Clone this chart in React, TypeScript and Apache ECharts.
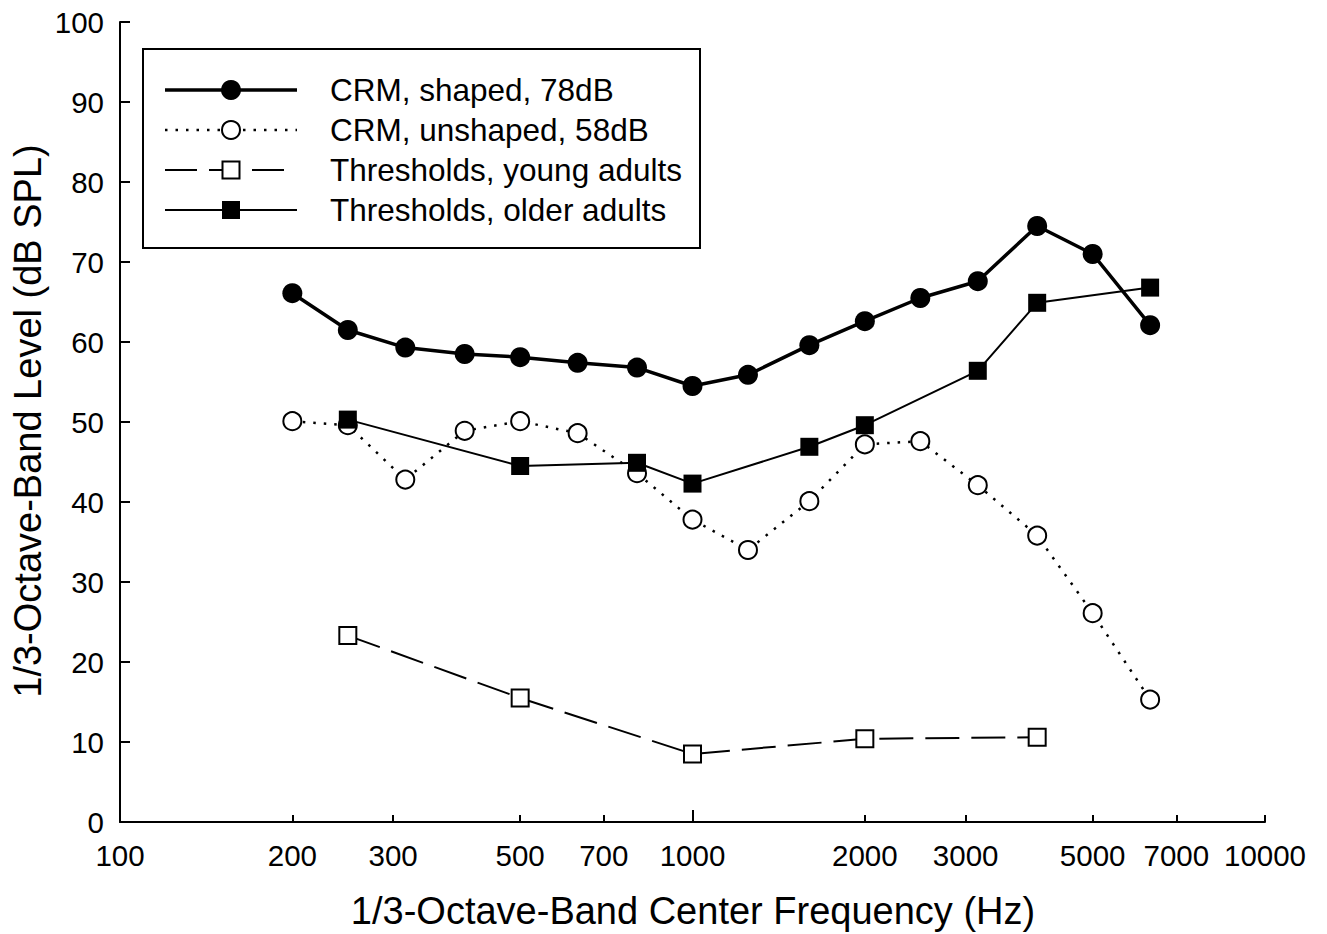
import React, { useEffect, useRef } from "react";
import * as echarts from "echarts";

const freqs = [200, 250, 315, 400, 500, 630, 800, 1000, 1250, 1600, 2000, 2500, 3150, 4000, 5000, 6300];
const crmShaped = [66.1, 61.5, 59.3, 58.5, 58.1, 57.4, 56.8, 54.5, 55.9, 59.6, 62.6, 65.5, 67.6, 74.5, 71.0, 62.1];
const crmUnshaped = [50.1, 49.6, 42.8, 48.9, 50.1, 48.6, 43.6, 37.8, 34.0, 40.1, 47.2, 47.6, 42.1, 35.8, 26.1, 15.3];
const youngFreqs = [250, 500, 1000, 2000, 4000];
const youngThr = [23.3, 15.5, 8.5, 10.4, 10.6];
const olderFreqs = [250, 500, 800, 1000, 1600, 2000, 3150, 4000, 6300];
const olderThr = [50.3, 44.5, 44.9, 42.3, 46.9, 49.6, 56.4, 64.9, 66.8];
const xTickValues = [100, 200, 300, 500, 700, 1000, 2000, 3000, 5000, 7000, 10000];
const legendNames = ["CRM, shaped, 78dB", "CRM, unshaped, 58dB", "Thresholds, young adults", "Thresholds, older adults"];
const xTitle = "1/3-Octave-Band Center Frequency (Hz)";
const yTitle = "1/3-Octave-Band Level (dB SPL)";

const FONT = "'Liberation Sans', Arial, Helvetica, sans-serif";

const toPts = (fs: number[], vs: number[]) => fs.map((f, i) => [Math.log10(f), vs[i]]);

export default function App() {
  const ref = useRef<HTMLDivElement>(null);
  useEffect(() => {
    if (!ref.current) return;
    const chart = echarts.init(ref.current, null, { renderer: "svg" });
    const lx0 = 165, lx1 = 297, lmx = 231, tx = 330;
    const ly = [90, 130, 170, 210];
    const ls = { stroke: "#000" };
    const graphic: any[] = [
      { type: "rect", shape: { x: 143, y: 49, width: 557, height: 199 }, style: { fill: "#fff", stroke: "#000", lineWidth: 2 }, z: 10 },
      { type: "line", shape: { x1: lx0, y1: ly[0], x2: lx1, y2: ly[0] }, style: { ...ls, lineWidth: 3.5 }, z: 11 },
      { type: "circle", shape: { cx: lmx, cy: ly[0], r: 10 }, style: { fill: "#000" }, z: 12 },
      { type: "line", shape: { x1: lx0, y1: ly[1], x2: lmx - 10, y2: ly[1] }, style: { ...ls, lineWidth: 2.5, lineDash: [2.5, 8] }, z: 11 },
      { type: "line", shape: { x1: lmx + 12, y1: ly[1], x2: lx1, y2: ly[1] }, style: { ...ls, lineWidth: 2.5, lineDash: [2.5, 8] }, z: 11 },
      { type: "circle", shape: { cx: lmx, cy: ly[1], r: 9 }, style: { fill: "#fff", stroke: "#000", lineWidth: 2 }, z: 12 },
      { type: "line", shape: { x1: lx0, y1: ly[2], x2: 197, y2: ly[2] }, style: { ...ls, lineWidth: 2 }, z: 11 },
      { type: "line", shape: { x1: 209, y1: ly[2], x2: 222, y2: ly[2] }, style: { ...ls, lineWidth: 2 }, z: 11 },
      { type: "line", shape: { x1: 252, y1: ly[2], x2: 284, y2: ly[2] }, style: { ...ls, lineWidth: 2 }, z: 11 },
      { type: "rect", shape: { x: lmx - 8.5, y: ly[2] - 8.5, width: 17, height: 17 }, style: { fill: "#fff", stroke: "#000", lineWidth: 2 }, z: 12 },
      { type: "line", shape: { x1: lx0, y1: ly[3], x2: lx1, y2: ly[3] }, style: { ...ls, lineWidth: 2 }, z: 11 },
      { type: "rect", shape: { x: lmx - 9, y: ly[3] - 9, width: 18, height: 18 }, style: { fill: "#000" }, z: 12 },
      ...legendNames.map((n, i) => ({
        type: "text", x: tx, y: ly[i], z: 12,
        style: { text: n, fill: "#000", font: `31.5px ${FONT}`, textAlign: "left", textVerticalAlign: "middle" },
      })),
      { type: "text", x: 693, y: 911, style: { text: xTitle, fill: "#000", font: `38px ${FONT}`, textAlign: "center", textVerticalAlign: "middle" } },
      { type: "text", x: 28, y: 421, rotation: Math.PI / 2, style: { text: yTitle, fill: "#000", font: `38px ${FONT}`, textAlign: "center", textVerticalAlign: "middle" } },
    ];
    const xCustom = xTickValues.map((v) => Math.log10(v));
    chart.setOption({
      animation: false,
      backgroundColor: "#fff",
      grid: { left: 120, right: 62, top: 22, bottom: 112, containLabel: false },
      xAxis: [
        {
          type: "value", min: 2, max: 4,
          axisLine: { show: true, lineStyle: { color: "#000", width: 2 } },
          axisTick: { show: true, inside: true, length: 7, lineStyle: { color: "#000", width: 2 }, customValues: xCustom.filter((v) => v !== 3) },
          axisLabel: {
            show: true, customValues: xCustom, margin: 18, color: "#000", fontSize: 29.5, fontFamily: FONT,
            formatter: (v: number) => String(Math.round(Math.pow(10, v))),
          },
          splitLine: { show: false },
        },
        {
          type: "value", min: 2, max: 4, position: "bottom", offset: 0,
          axisLine: { show: false },
          axisTick: { show: true, inside: true, length: 12, lineStyle: { color: "#000", width: 2 }, customValues: [3] },
          axisLabel: { show: false },
          splitLine: { show: false },
        },
      ],
      yAxis: {
        type: "value", min: 0, max: 100, interval: 10,
        axisLine: { show: true, lineStyle: { color: "#000", width: 2 } },
        axisTick: { show: true, inside: true, length: 10, lineStyle: { color: "#000", width: 2 } },
        axisLabel: { margin: 16, color: "#000", fontSize: 29.5, fontFamily: FONT },
        splitLine: { show: false },
      },
      series: [
        {
          name: legendNames[1], type: "line", data: toPts(freqs, crmUnshaped), z: 2,
          symbol: "circle", symbolSize: 18, showAllSymbol: true,
          itemStyle: { color: "#fff", borderColor: "#000", borderWidth: 2 },
          lineStyle: { color: "#000", width: 2.5, type: [2.5, 8] },
        },
        {
          name: legendNames[2], type: "line", data: toPts(youngFreqs, youngThr), z: 3,
          symbol: "rect", symbolSize: 17, showAllSymbol: true,
          itemStyle: { color: "#fff", borderColor: "#000", borderWidth: 2 },
          lineStyle: { color: "#000", width: 2, type: [34, 12] },
        },
        {
          name: legendNames[3], type: "line", data: toPts(olderFreqs, olderThr), z: 4,
          symbol: "rect", symbolSize: 18, showAllSymbol: true,
          itemStyle: { color: "#000", borderColor: "#000", borderWidth: 0 },
          lineStyle: { color: "#000", width: 2 },
        },
        {
          name: legendNames[0], type: "line", data: toPts(freqs, crmShaped), z: 5,
          symbol: "circle", symbolSize: 20, showAllSymbol: true,
          itemStyle: { color: "#000", borderColor: "#000", borderWidth: 0 },
          lineStyle: { color: "#000", width: 3.5 },
        },
      ],
      graphic,
    });
    return () => chart.dispose();
  }, []);
  return <div ref={ref} style={{ position: "fixed", left: 0, top: 0, width: 1327, height: 934 }} />;
}
